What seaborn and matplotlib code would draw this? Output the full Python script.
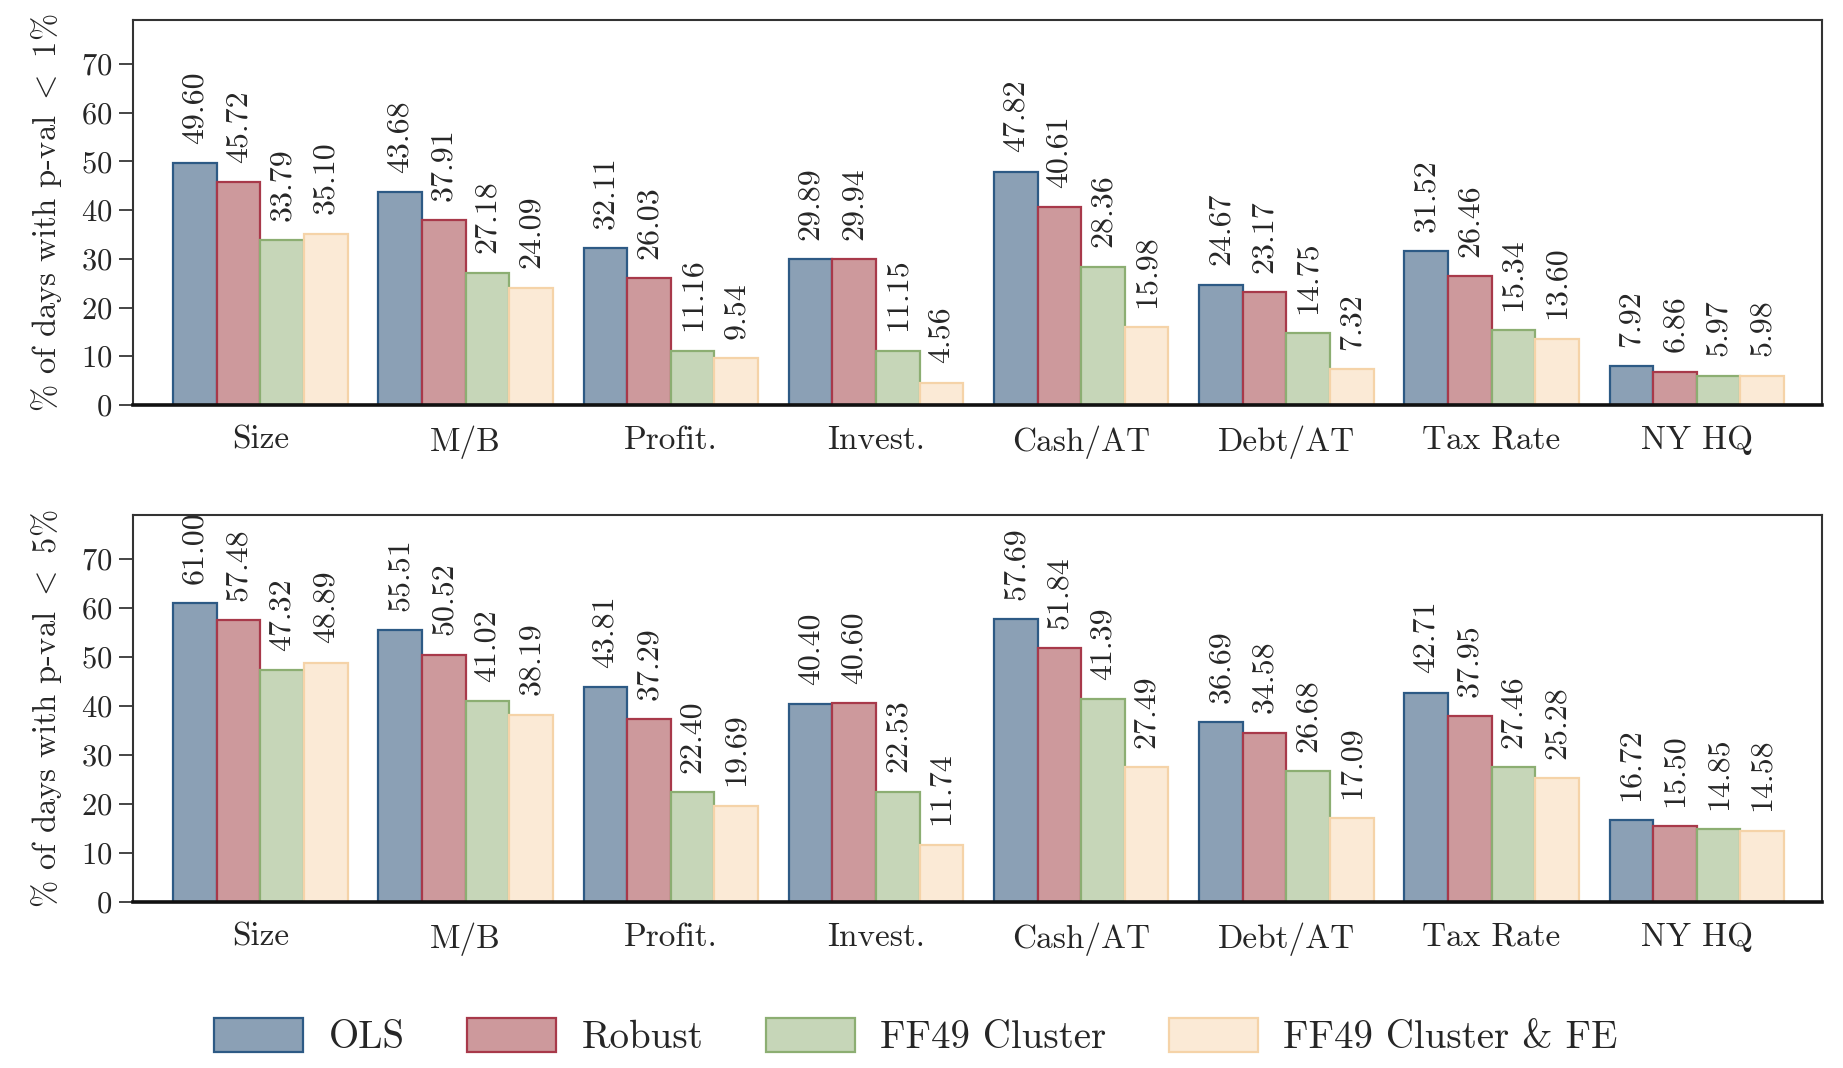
import matplotlib
matplotlib.use("Agg")
import matplotlib.pyplot as plt
import seaborn as sns
import pandas as pd

categories = ["Size", "M/B", "Profit.", "Invest.", "Cash/AT", "Debt/AT", "Tax Rate", "NY HQ"]
methods = ["OLS", "Robust", "FF49 Cluster", "FF49 Cluster & FE"]

p1_ols = [49.60, 43.68, 32.11, 29.89, 47.82, 24.67, 31.52, 7.92]
p1_robust = [45.72, 37.91, 26.03, 29.94, 40.61, 23.17, 26.46, 6.86]
p1_cluster = [33.79, 27.18, 11.16, 11.15, 28.36, 14.75, 15.34, 5.97]
p1_cluster_fe = [35.10, 24.09, 9.54, 4.56, 15.98, 7.32, 13.60, 5.98]

p5_ols = [61.00, 55.51, 43.81, 40.40, 57.69, 36.69, 42.71, 16.72]
p5_robust = [57.48, 50.52, 37.29, 40.60, 51.84, 34.58, 37.95, 15.50]
p5_cluster = [47.32, 41.02, 22.40, 22.53, 41.39, 26.68, 27.46, 14.85]
p5_cluster_fe = [48.89, 38.19, 19.69, 11.74, 27.49, 17.09, 25.28, 14.58]

face_colors = ["#8BA0B5", "#CD999C", "#C6D6B8", "#FBEAD6"]
edge_colors = ["#2D5A85", "#A8394A", "#8CAE72", "#F5D3A8"]

sns.set_style("ticks")
plt.rcParams["font.family"] = ["cmr10", "DejaVu Serif"]
plt.rcParams["mathtext.fontset"] = "cm"
plt.rcParams["axes.formatter.use_mathtext"] = True
plt.rcParams["axes.unicode_minus"] = False


def long_frame(series):
    rows = []
    for m, vals in zip(methods, series):
        for c, v in zip(categories, vals):
            rows.append({"Variable": c, "Method": m, "Value": v})
    return pd.DataFrame(rows)


df1 = long_frame([p1_ols, p1_robust, p1_cluster, p1_cluster_fe])
df5 = long_frame([p5_ols, p5_robust, p5_cluster, p5_cluster_fe])

fig = plt.figure(figsize=(18.43, 10.68), dpi=100)
ax1 = fig.add_axes([0.0722, 0.6208, 0.9164, 0.3605])
ax2 = fig.add_axes([0.0722, 0.1554, 0.9164, 0.3624])

for ax, df, ylab in [(ax1, df1, r"% of days with p-val $<$ 1%"),
                     (ax2, df5, r"% of days with p-val $<$ 5%")]:
    sns.barplot(data=df, x="Variable", y="Value", hue="Method", order=categories,
                hue_order=methods, palette=face_colors, saturation=1, width=0.85,
                linewidth=1.6, ax=ax, legend=(ax is ax1))
    for cont, ec in zip(ax.containers, edge_colors):
        for bar in cont:
            bar.set_edgecolor(ec)
        ax.bar_label(cont, fmt="%.2f", rotation=90, padding=14, fontsize=23)
    ax.set_xlim(-0.62, 7.61)
    ax.set_ylim(0, 79)
    ax.set_yticks(range(0, 80, 10))
    ax.set_xlabel("")
    ax.set_ylabel(ylab, fontsize=23.5, labelpad=12)
    ax.tick_params(axis="y", labelsize=22, length=10, width=1.2, direction="out", pad=5)
    ax.tick_params(axis="x", labelsize=24, length=0, pad=15)
    for side in ["top", "right", "left"]:
        ax.spines[side].set_visible(True)
        ax.spines[side].set_color("#333333")
        ax.spines[side].set_linewidth(1.5)
    ax.spines["bottom"].set_color("#111111")
    ax.spines["bottom"].set_linewidth(2.6)

handles, labels = ax1.get_legend_handles_labels()
for h, ec in zip(handles, edge_colors):
    h.set_edgecolor(ec)
    h.set_linewidth(1.6)
ax1.get_legend().remove()
fig.legend(handles, labels, loc="center", bbox_to_anchor=(0.497, 0.029), ncol=4,
           frameon=False, fontsize=28, handlelength=2.3, handleheight=1.0,
           handletextpad=0.65, columnspacing=1.6)

fig.savefig("out.png", dpi=100)
